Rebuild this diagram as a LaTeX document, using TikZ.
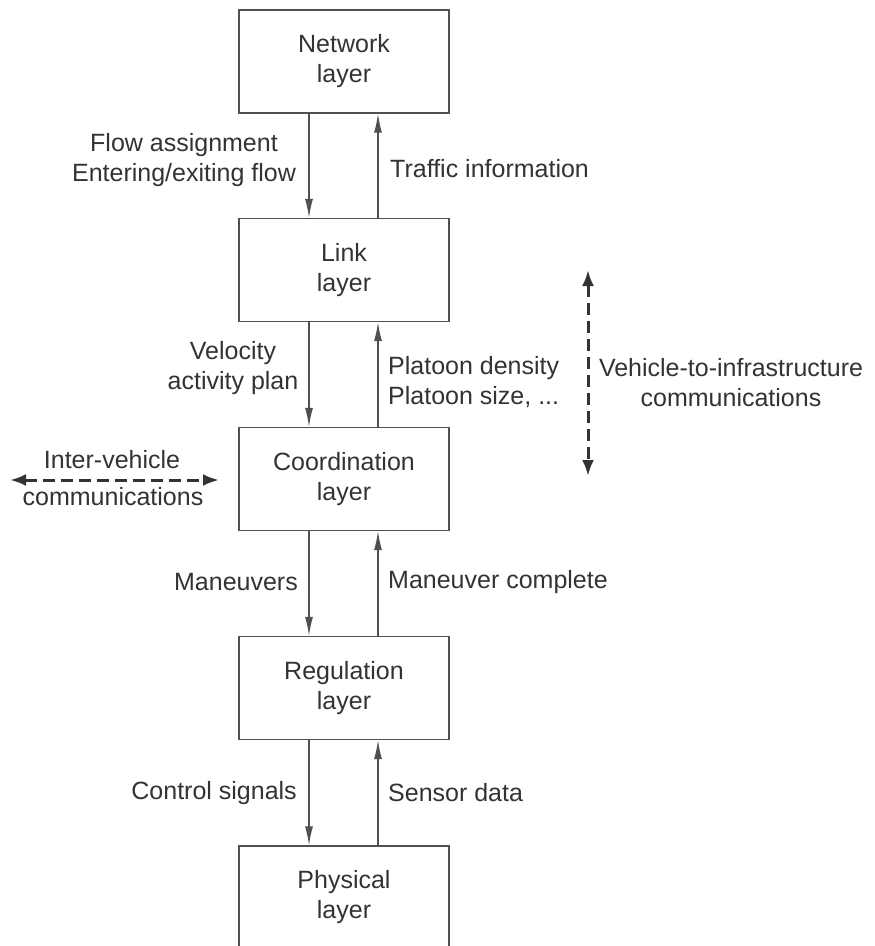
\documentclass[tikz,border=0pt]{standalone}
\usepackage{fontspec}
\setmainfont{Liberation Sans}
\usetikzlibrary{arrows.meta}
\definecolor{ink}{HTML}{333333}
\definecolor{rule}{HTML}{505050}
\begin{document}
\begin{tikzpicture}[x=1pt,y=-1pt,
  font=\fontsize{25}{30}\selectfont,
  every node/.style={text=ink,inner sep=0pt},
  layerbox/.style={draw=rule,line width=1.3pt,minimum width=210pt,minimum height=103pt,align=center},
  flowarrow/.style={draw=rule,line width=1.3pt,-{Latex[length=19pt,width=8pt]}},
  commarrow/.style={draw=ink,line width=3pt,dash pattern=on 12pt off 6pt,{Latex[length=16pt,width=12pt]}-{Latex[length=16pt,width=12pt]}},
  lbl/.style={align=center}]
\useasboundingbox (0,0) rectangle (875,946);
\clip (0,0) rectangle (875,946);
\fill[white] (0,0) rectangle (875,946);

% layer stack
\node[layerbox] (net)  at (344,61.5) {Network\\layer};
\node[layerbox] (link) at (344,270)  {Link\\layer};
\node[layerbox] (coord) at (344,479) {Coordination\\layer};
\node[layerbox] (reg)  at (344,688)  {Regulation\\layer};
\node[layerbox] (phys) at (344,897.5) {Physical\\layer};

% commands going down, feedback going up
\foreach \upper/\lower in {net/link,link/coord,coord/reg,reg/phys}{
  \draw[flowarrow] ([xshift=-35pt]\upper.south) -- ([xshift=-35pt]\lower.north);
  \draw[flowarrow] ([xshift=34pt]\lower.north) -- ([xshift=34pt]\upper.south);
}

% labels of the downward links
\node[lbl] (fa) at (184,160) {Flow assignment\\Entering/exiting flow};
\node[lbl] (vp) at (233,368) {Velocity\\activity plan};
\node[anchor=east] (mn) at (298,582) {Maneuvers};
\node[anchor=east] (cs) at (297,793) {Control signals};

% labels of the upward links
\node[anchor=west] (ti) at (390,169) {Traffic information};
\node[anchor=west,align=left] (pd) at (388,382) {Platoon density\\Platoon size, ...};
\node[anchor=west] (mc) at (388,582) {Maneuver complete};
\node[anchor=west] (sd) at (388,793) {Sensor data};

% vehicle-to-infrastructure communications
\coordinate (v2itop) at (588,270);
\coordinate (v2ibot) at (588,476);
\draw[commarrow] (v2itop) -- (v2ibot);
\node[lbl] (v2i) at (731,383) {Vehicle-to-infrastructure\\communications};

% inter-vehicle communications
\coordinate (ivleft) at (10,480);
\coordinate (ivright) at (219,480);
\draw[commarrow] (ivleft) -- (ivright);
\node (ivtop) at (112,460) {Inter-vehicle};
\node (ivbot) at (113,497) {communications};
\end{tikzpicture}
\end{document}
